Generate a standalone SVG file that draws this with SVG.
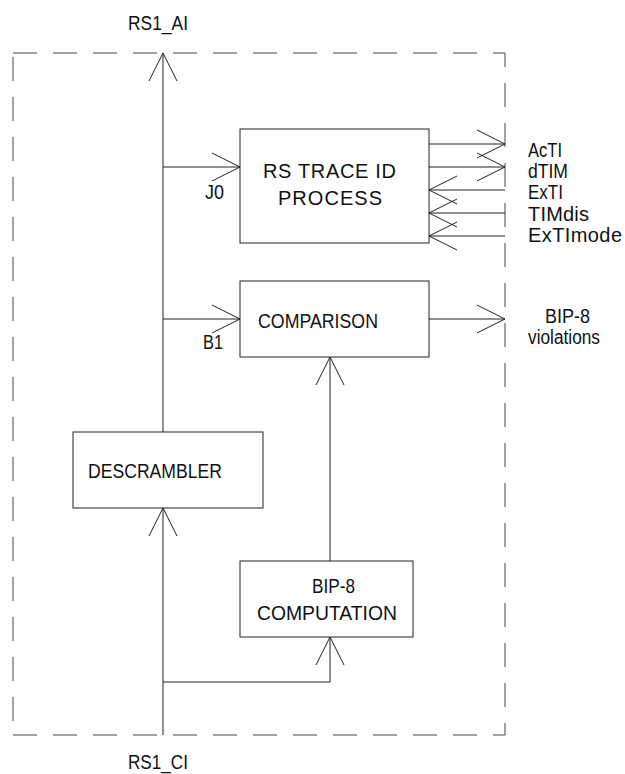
<svg xmlns="http://www.w3.org/2000/svg" width="625" height="774" viewBox="0 0 625 774">
<style>
.bx{fill:#fff;stroke:#222;stroke-width:1}
.cn{fill:none;stroke:#222;stroke-width:1}
.fr{fill:none;stroke:#444;stroke-width:1;stroke-dasharray:24 16}
text{font-family:"Liberation Sans",Arial,sans-serif;font-size:20px;fill:#111}
</style>
<defs>
<marker id="arr" markerUnits="userSpaceOnUse" orient="auto" refX="0" refY="0" markerWidth="32" markerHeight="32" overflow="visible">
<path d="M-28,-14 L0,0 L-28,14" fill="none" stroke="#222" stroke-width="1"/>
</marker>
</defs>
<g id="frame">
<line class="fr" x1="13" y1="53" x2="505" y2="53"/>
<line class="fr" x1="13" y1="53" x2="13" y2="735" stroke-dashoffset="36"/>
<line class="fr" x1="505" y1="53" x2="505" y2="735" stroke-dashoffset="10"/>
<line class="fr" x1="13" y1="735" x2="505" y2="735"/>
</g>
<g id="connectors">
<line class="cn" x1="163" y1="432" x2="163" y2="53" marker-end="url(#arr)"/>
<line class="cn" x1="163" y1="167" x2="240" y2="167" marker-end="url(#arr)"/>
<line class="cn" x1="163" y1="319" x2="240" y2="319" marker-end="url(#arr)"/>
<line class="cn" x1="429" y1="144" x2="505" y2="144" marker-end="url(#arr)"/>
<line class="cn" x1="429" y1="167" x2="505" y2="167" marker-end="url(#arr)"/>
<line class="cn" x1="505" y1="190" x2="429" y2="190" marker-end="url(#arr)"/>
<line class="cn" x1="505" y1="213" x2="429" y2="213" marker-end="url(#arr)"/>
<line class="cn" x1="505" y1="236" x2="429" y2="236" marker-end="url(#arr)"/>
<line class="cn" x1="429" y1="319" x2="505" y2="319" marker-end="url(#arr)"/>
<line class="cn" x1="330" y1="561" x2="330" y2="357" marker-end="url(#arr)"/>
<line class="cn" x1="163" y1="735" x2="163" y2="508" marker-end="url(#arr)"/>
<path class="cn" d="M163,682 H330 V637" marker-end="url(#arr)"/>
</g>
<g id="trace">
<rect class="bx" x="240" y="129" width="189" height="114"/>
<text x="263" y="178" textLength="133" lengthAdjust="spacing">RS TRACE ID</text>
<text x="278" y="205" textLength="104" lengthAdjust="spacing">PROCESS</text>
</g>
<g id="comparison">
<rect class="bx" x="240" y="281" width="189" height="76"/>
<text x="258" y="328" textLength="120" lengthAdjust="spacingAndGlyphs">COMPARISON</text>
</g>
<g id="descrambler">
<rect class="bx" x="73" y="432" width="190" height="76"/>
<text x="88" y="478" textLength="134" lengthAdjust="spacingAndGlyphs">DESCRAMBLER</text>
</g>
<g id="bipcomp">
<rect class="bx" x="240" y="561" width="173" height="76"/>
<text x="312" y="593" textLength="43" lengthAdjust="spacingAndGlyphs">BIP-8</text>
<text x="257" y="620" textLength="140" lengthAdjust="spacingAndGlyphs">COMPUTATION</text>
</g>
<g id="labels">
<text x="128" y="30" textLength="60" lengthAdjust="spacingAndGlyphs">RS1_AI</text>
<text x="128" y="769" textLength="60" lengthAdjust="spacingAndGlyphs">RS1_CI</text>
<text x="205" y="199" textLength="19" lengthAdjust="spacingAndGlyphs">J0</text>
<text x="203" y="349" textLength="20" lengthAdjust="spacingAndGlyphs">B1</text>
<text x="528" y="157" textLength="34" lengthAdjust="spacingAndGlyphs">AcTI</text>
<text x="528" y="178" textLength="40" lengthAdjust="spacingAndGlyphs">dTIM</text>
<text x="528" y="199" textLength="35" lengthAdjust="spacingAndGlyphs">ExTI</text>
<text x="528" y="221" textLength="61" lengthAdjust="spacing">TIMdis</text>
<text x="528" y="242" textLength="94" lengthAdjust="spacing">ExTImode</text>
<text x="545" y="323" textLength="45" lengthAdjust="spacingAndGlyphs">BIP-8</text>
<text x="528" y="344" textLength="72" lengthAdjust="spacingAndGlyphs">violations</text>
</g>
</svg>
